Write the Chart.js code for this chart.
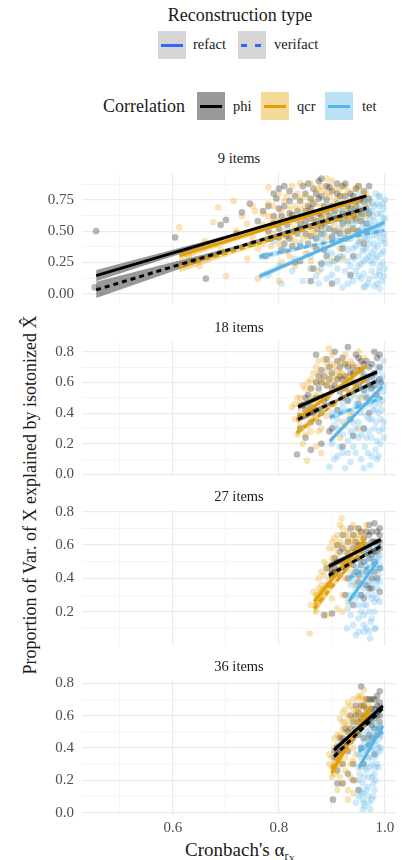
<!DOCTYPE html>
<html><head><meta charset="utf-8">
<script src="https://cdn.jsdelivr.net/npm/chart.js@4"></script>
<style>
html,body{margin:0;padding:0;background:#fff}
body{width:402px;height:860px;position:relative;overflow:hidden;font-family:"Liberation Serif","DejaVu Serif",serif;color:#1a1a1a}
.t{position:absolute;white-space:nowrap;line-height:1}
.box{position:absolute;width:28px;height:28px}
.kl{position:absolute;height:3px}
canvas{position:absolute;left:0}
</style></head><body>

<div class="t" style="left:240px;top:6px;font-size:18px;transform:translateX(-50%)">Reconstruction type</div>
<div class="box" style="left:158px;top:31px;background:#d5d5d5"><div class="kl" style="left:3px;width:22px;top:12.5px;background:#3366FF"></div></div>
<div class="t" style="left:193px;top:37px;font-size:14.5px">refact</div>
<div class="box" style="left:238px;top:31px;background:#d5d5d5"><div class="kl" style="left:3px;width:6px;top:12.5px;background:#3366FF"></div><div class="kl" style="left:17px;width:6px;top:12.5px;background:#3366FF"></div></div>
<div class="t" style="left:274px;top:37px;font-size:14.5px">verifact</div>

<div class="t" style="left:103px;top:97px;font-size:18px">Correlation</div>
<div class="box" style="left:197px;top:92px;background:#999999"><div class="kl" style="left:3px;width:22px;top:12.5px;background:#000"></div></div>
<div class="t" style="left:233px;top:99px;font-size:14.5px">phi</div>
<div class="box" style="left:261px;top:92px;background:#F5D999"><div class="kl" style="left:3px;width:22px;top:12.5px;background:#E69F00"></div></div>
<div class="t" style="left:297px;top:99px;font-size:14.5px">qcr</div>
<div class="box" style="left:325px;top:92px;background:#BBE1F6"><div class="kl" style="left:3px;width:22px;top:12.5px;background:#56B4E9"></div></div>
<div class="t" style="left:362px;top:99px;font-size:14.5px">tet</div>

<div class="t" style="left:30px;top:495px;font-size:18px;transform:translate(-50%,-50%) rotate(-90deg)">Proportion of Var. of X explained by isotonized X&#770;</div>
<div class="t" style="left:240px;top:840px;font-size:19px;transform:translateX(-50%)">Cronbach's α<sub style="font-size:12px;vertical-align:-4px">r<sub style="font-size:9px;vertical-align:-2px">X</sub></sub></div>

<div id="wrap"></div>
<script>
// ---------------- data ----------------
const corrs = ['phi', 'qcr', 'tet'];
const types = ['refact', 'verifact'];
const panelTitles = ['9 items', '18 items', '27 items', '36 items'];

const xTickVals = [0.6, 0.8, 1.0];
const xTickLabels = ['0.6', '0.8', '1.0'];
const xMinorVals = [0.5, 0.7, 0.9];
const xLim = [0.4283, 1.0208];

const yLims = [[-0.075, 0.965], [-0.01, 0.87], [-0.005, 0.81], [-0.015, 0.82]];
const yTickVals = [[0, 0.25, 0.5, 0.75], [0, 0.2, 0.4, 0.6, 0.8], [0.2, 0.4, 0.6, 0.8], [0, 0.2, 0.4, 0.6, 0.8]];
const yTickLabels = [['0.00', '0.25', '0.50', '0.75'], ['0.0', '0.2', '0.4', '0.6', '0.8'], ['0.2', '0.4', '0.6', '0.8'], ['0.0', '0.2', '0.4', '0.6', '0.8']];
const yMinorVals = [[0.125, 0.375, 0.625, 0.875], [0.1, 0.3, 0.5, 0.7], [0.1, 0.3, 0.5, 0.7], [0.1, 0.3, 0.5, 0.7]];

// observations [alpha, proportion]
const pts9_phi = [[0.455,0.50],[0.452,0.05],[0.604,0.45],[0.662,0.12],[0.69,0.55],[0.70,0.59],[0.72,0.48],[0.73,0.65],[0.745,0.72],[0.75,0.40],[0.76,0.58],[0.77,0.66],[0.775,0.30],[0.78,0.50],[0.79,0.62],[0.795,0.76],[0.80,0.45],[0.805,0.35],[0.81,0.70],[0.815,0.55],[0.82,0.82],[0.825,0.63],[0.83,0.25],[0.835,0.48],[0.84,0.74],[0.845,0.86],[0.85,0.58],[0.855,0.40],[0.86,0.68],[0.865,0.20],[0.87,0.80],[0.872,0.52],[0.875,0.90],[0.88,0.62],[0.885,0.35],[0.89,0.75],[0.895,0.85],[0.90,0.45],[0.905,0.66],[0.91,0.28],[0.915,0.78],[0.92,0.56],[0.925,0.88],[0.93,0.70],[0.935,0.15],[0.94,0.62],[0.945,0.84],[0.95,0.50],[0.955,0.76],[0.96,0.40],[0.965,0.68],[0.97,0.86],[0.86,0.10],[0.90,0.08],[0.88,0.92],[0.84,0.38],[0.82,0.44],[0.92,0.36],[0.94,0.30],[0.80,0.84],
  [0.79,0.56],[0.80,0.68],[0.81,0.40],[0.82,0.74],[0.83,0.60],[0.84,0.52],[0.85,0.80],[0.855,0.70],[0.86,0.46],[0.865,0.84],[0.87,0.36],[0.875,0.64],[0.88,0.78],[0.885,0.56],[0.89,0.30],[0.895,0.62],[0.90,0.82],[0.905,0.50],[0.91,0.72],[0.915,0.60],[0.92,0.86],[0.925,0.44],[0.93,0.64],[0.935,0.80],[0.94,0.52],[0.945,0.70],[0.95,0.86],[0.955,0.58],[0.96,0.74],[0.965,0.50],[0.97,0.64],[0.85,0.66],[0.87,0.58],[0.89,0.66],[0.91,0.88],[0.93,0.58],[0.95,0.66],[0.86,0.76],[0.88,0.48],[0.92,0.72],
  [0.78,0.70],[0.785,0.44],[0.79,0.80],[0.80,0.52],[0.805,0.62],[0.81,0.86],[0.815,0.46],[0.82,0.64],[0.825,0.38],[0.83,0.78],[0.835,0.66],[0.84,0.56],[0.845,0.62],[0.85,0.48],[0.855,0.88],[0.86,0.60],[0.865,0.72],[0.87,0.44],[0.875,0.76],[0.88,0.54],[0.885,0.70],[0.89,0.86],[0.895,0.52],[0.90,0.70],[0.905,0.60],[0.91,0.80],[0.915,0.48],[0.92,0.64],[0.925,0.78],[0.93,0.50],[0.935,0.68],[0.94,0.78],[0.945,0.60],[0.95,0.74],[0.955,0.64],[0.96,0.82],[0.965,0.56],[0.97,0.76],[0.84,0.26],[0.88,0.24]];
const pts9_qcr = [[0.612,0.53],[0.63,0.30],[0.65,0.22],[0.66,0.42],[0.676,0.57],[0.685,0.69],[0.69,0.35],[0.70,0.14],[0.714,0.74],[0.72,0.50],[0.73,0.62],[0.74,0.28],[0.75,0.45],[0.755,0.66],[0.76,0.12],[0.77,0.55],[0.78,0.72],[0.785,0.38],[0.79,0.60],[0.80,0.80],[0.805,0.25],[0.81,0.50],[0.82,0.68],[0.825,0.86],[0.83,0.42],[0.835,0.58],[0.84,0.76],[0.85,0.32],[0.855,0.64],[0.86,0.88],[0.865,0.50],[0.87,0.72],[0.875,0.18],[0.88,0.60],[0.885,0.82],[0.89,0.45],[0.895,0.70],[0.90,0.90],[0.905,0.55],[0.91,0.78],[0.915,0.36],[0.92,0.66],[0.925,0.86],[0.93,0.48],[0.935,0.74],[0.94,0.60],[0.945,0.84],[0.95,0.68],[0.955,0.42],[0.96,0.80],[0.965,0.62],[0.97,0.72],[0.80,0.10],[0.86,0.26],[0.78,0.85],[0.89,0.92],[0.83,0.22],[0.92,0.28],
  [0.76,0.52],[0.77,0.40],[0.78,0.62],[0.79,0.48],[0.80,0.58],[0.81,0.74],[0.815,0.34],[0.82,0.56],[0.83,0.70],[0.84,0.62],[0.845,0.44],[0.85,0.78],[0.855,0.54],[0.86,0.66],[0.865,0.38],[0.87,0.82],[0.875,0.58],[0.88,0.70],[0.885,0.50],[0.89,0.80],[0.895,0.60],[0.90,0.42],[0.905,0.74],[0.91,0.64],[0.915,0.84],[0.92,0.52],[0.925,0.70],[0.93,0.82],[0.935,0.58],[0.94,0.76],[0.945,0.50],[0.95,0.86],[0.955,0.62],[0.96,0.70],[0.965,0.80],[0.82,0.30],[0.86,0.20],[0.90,0.26],[0.84,0.88],[0.88,0.86],
  [0.74,0.56],[0.75,0.70],[0.76,0.36],[0.77,0.64],[0.78,0.46],[0.785,0.56],[0.79,0.70],[0.80,0.40],[0.805,0.66],[0.81,0.60],[0.815,0.78],[0.82,0.46],[0.825,0.62],[0.83,0.52],[0.835,0.80],[0.84,0.68],[0.845,0.56],[0.85,0.70],[0.855,0.46],[0.86,0.74],[0.865,0.60],[0.87,0.48],[0.875,0.84],[0.88,0.66],[0.885,0.40],[0.89,0.62],[0.895,0.78],[0.90,0.66],[0.905,0.84],[0.91,0.50],[0.915,0.70],[0.92,0.78],[0.925,0.60],[0.93,0.66],[0.935,0.52],[0.94,0.70],[0.945,0.66],[0.95,0.58],[0.955,0.76],[0.96,0.64]];
const pts9_tet = [[0.77,0.30],[0.78,0.15],[0.79,0.42],[0.80,0.22],[0.805,0.08],[0.81,0.35],[0.82,0.50],[0.825,0.18],[0.83,0.28],[0.84,0.40],[0.845,0.10],[0.85,0.55],[0.855,0.32],[0.86,0.20],[0.865,0.62],[0.87,0.45],[0.875,0.08],[0.88,0.36],[0.885,0.25],[0.89,0.52],[0.895,0.70],[0.90,0.15],[0.905,0.42],[0.91,0.60],[0.915,0.30],[0.92,0.05],[0.925,0.48],[0.93,0.72],[0.935,0.22],[0.94,0.56],[0.945,0.38],[0.95,0.80],[0.955,0.12],[0.96,0.64],[0.962,0.45],[0.965,0.28],[0.97,0.74],[0.972,0.52],[0.975,0.18],[0.978,0.62],[0.98,0.35],[0.982,0.80],[0.985,0.08],[0.988,0.55],[0.99,0.70],[0.992,0.42],[0.995,0.25],[0.996,0.60],[0.998,0.48],[1.0,0.75],[0.94,0.10],[0.96,0.05],[0.92,0.66],[0.90,0.32],[0.97,0.40],[0.985,0.30],[0.95,0.50],[0.93,0.35],[0.99,0.15],[0.975,0.66],
  [0.88,0.44],[0.89,0.12],[0.90,0.58],[0.905,0.26],[0.91,0.46],[0.915,0.68],[0.92,0.38],[0.925,0.18],[0.93,0.56],[0.935,0.44],[0.94,0.66],[0.942,0.28],[0.945,0.74],[0.95,0.22],[0.952,0.40],[0.955,0.60],[0.958,0.34],[0.96,0.16],[0.962,0.72],[0.965,0.52],[0.968,0.08],[0.97,0.30],[0.972,0.60],[0.975,0.46],[0.977,0.24],[0.98,0.70],[0.982,0.14],[0.984,0.50],[0.986,0.38],[0.988,0.78],[0.99,0.22],[0.992,0.64],[0.994,0.10],[0.995,0.56],[0.997,0.34],[0.998,0.68],[0.999,0.44],[1.0,0.20],[0.96,0.56],[0.95,0.68],[0.94,0.48],[0.93,0.08],[0.92,0.58],[0.91,0.20],[0.98,0.06],[0.99,0.48],[0.97,0.12],[0.985,0.72],[0.95,0.30],[0.975,0.54],
  [0.86,0.30],[0.87,0.14],[0.875,0.56],[0.88,0.20],[0.885,0.48],[0.89,0.34],[0.895,0.24],[0.90,0.46],[0.905,0.64],[0.91,0.10],[0.915,0.52],[0.92,0.30],[0.925,0.62],[0.93,0.44],[0.935,0.14],[0.94,0.36],[0.945,0.58],[0.95,0.42],[0.955,0.24],[0.958,0.66],[0.96,0.36],[0.963,0.06],[0.966,0.44],[0.97,0.56],[0.973,0.26],[0.976,0.72],[0.979,0.40],[0.981,0.58],[0.983,0.28],[0.986,0.64],[0.989,0.18],[0.991,0.52],[0.993,0.32],[0.996,0.72],[0.998,0.14],[1.0,0.40],[1.0,0.60],[0.99,0.04],[0.97,0.66],[0.95,0.14],[0.93,0.26],[0.965,0.36],[0.985,0.46],[0.975,0.32],[0.955,0.52],[0.945,0.18],[0.99,0.78],[0.98,0.50],[0.96,0.26],[0.94,0.66]];

const pts18_phi = [[0.834,0.13],[0.84,0.30],[0.845,0.45],[0.85,0.24],[0.855,0.52],[0.86,0.16],[0.865,0.40],[0.87,0.60],[0.875,0.34],[0.88,0.68],[0.885,0.48],[0.89,0.75],[0.895,0.28],[0.90,0.56],[0.905,0.80],[0.91,0.42],[0.915,0.64],[0.92,0.50],[0.925,0.72],[0.93,0.83],[0.935,0.36],[0.94,0.60],[0.945,0.78],[0.95,0.46],[0.955,0.68],[0.96,0.55],[0.965,0.74],[0.97,0.40],[0.975,0.64],[0.98,0.80],[0.985,0.52],[0.99,0.70],[0.992,0.60],[0.88,0.20],[0.90,0.30],[0.96,0.30],[0.87,0.78],[0.94,0.25],[0.86,0.56],[0.92,0.18],
  [0.85,0.42],[0.86,0.34],[0.87,0.50],[0.875,0.64],[0.88,0.40],[0.89,0.58],[0.895,0.70],[0.90,0.46],[0.91,0.74],[0.915,0.54],[0.92,0.62],[0.93,0.48],[0.935,0.66],[0.94,0.70],[0.95,0.58],[0.955,0.74],[0.96,0.64],[0.965,0.50],[0.97,0.70],[0.975,0.56],[0.98,0.66],[0.985,0.76],[0.99,0.62],[0.95,0.76],[0.925,0.56],
  [0.84,0.38],[0.85,0.50],[0.86,0.44],[0.87,0.42],[0.875,0.56],[0.88,0.60],[0.885,0.64],[0.89,0.50],[0.895,0.62],[0.90,0.66],[0.905,0.58],[0.91,0.62],[0.915,0.70],[0.92,0.76],[0.925,0.64],[0.93,0.70],[0.94,0.66],[0.945,0.56],[0.95,0.68],[0.96,0.72],[0.965,0.62],[0.97,0.58],[0.975,0.72],[0.98,0.58],[0.99,0.78]];
const pts18_qcr = [[0.825,0.44],[0.83,0.36],[0.835,0.26],[0.84,0.50],[0.845,0.20],[0.85,0.56],[0.853,0.09],[0.855,0.32],[0.86,0.62],[0.865,0.42],[0.87,0.70],[0.875,0.28],[0.88,0.52],[0.885,0.75],[0.89,0.38],[0.894,0.82],[0.90,0.60],[0.905,0.46],[0.91,0.68],[0.915,0.24],[0.92,0.56],[0.925,0.78],[0.93,0.64],[0.935,0.40],[0.94,0.72],[0.945,0.58],[0.95,0.80],[0.955,0.50],[0.96,0.70],[0.965,0.62],[0.87,0.18],[0.86,0.50],[0.88,0.14],[0.90,0.72],[0.92,0.34],[0.84,0.40],[0.95,0.30],[0.89,0.58],
  [0.83,0.46],[0.84,0.32],[0.845,0.58],[0.85,0.44],[0.86,0.38],[0.865,0.66],[0.87,0.52],[0.875,0.74],[0.88,0.62],[0.885,0.44],[0.89,0.68],[0.895,0.52],[0.90,0.78],[0.905,0.64],[0.91,0.56],[0.915,0.74],[0.92,0.66],[0.925,0.50],[0.93,0.72],[0.935,0.60],[0.94,0.52],[0.945,0.68],[0.955,0.64],[0.88,0.30],[0.86,0.28],
  [0.835,0.50],[0.84,0.46],[0.85,0.38],[0.855,0.60],[0.86,0.56],[0.865,0.48],[0.87,0.60],[0.875,0.66],[0.88,0.46],[0.885,0.60],[0.89,0.72],[0.895,0.64],[0.90,0.54],[0.905,0.70],[0.91,0.62],[0.915,0.66],[0.92,0.72],[0.925,0.62],[0.93,0.56],[0.935,0.74],[0.94,0.64],[0.95,0.70],[0.96,0.76],[0.87,0.36],[0.85,0.26]];
const pts18_tet = [[0.895,0.05],[0.90,0.20],[0.905,0.32],[0.91,0.12],[0.915,0.42],[0.92,0.26],[0.925,0.04],[0.93,0.36],[0.935,0.50],[0.94,0.18],[0.945,0.30],[0.95,0.58],[0.955,0.10],[0.96,0.44],[0.965,0.24],[0.97,0.64],[0.972,0.06],[0.975,0.36],[0.98,0.52],[0.982,0.16],[0.985,0.70],[0.988,0.40],[0.99,0.28],[0.992,0.60],[0.995,0.48],[0.997,0.74],[0.998,0.34],[0.96,0.66],[0.94,0.40],[0.975,0.12],[0.93,0.14],[0.99,0.56],[0.985,0.22],[0.95,0.34],[0.97,0.46],
  [0.90,0.40],[0.91,0.30],[0.915,0.18],[0.92,0.46],[0.925,0.32],[0.93,0.22],[0.935,0.08],[0.94,0.54],[0.945,0.14],[0.95,0.44],[0.955,0.26],[0.96,0.52],[0.962,0.18],[0.965,0.38],[0.97,0.28],[0.972,0.56],[0.975,0.48],[0.978,0.66],[0.98,0.30],[0.982,0.42],[0.985,0.58],[0.988,0.12],[0.99,0.46],[0.992,0.36],[0.995,0.64],[0.997,0.54],[0.998,0.24],[0.96,0.04],[0.97,0.36],[0.98,0.62],
  [0.905,0.10],[0.91,0.36],[0.92,0.14],[0.925,0.42],[0.93,0.48],[0.935,0.28],[0.94,0.34],[0.945,0.46],[0.95,0.24],[0.955,0.40],[0.96,0.30],[0.965,0.54],[0.968,0.14],[0.97,0.50],[0.974,0.24],[0.977,0.42],[0.98,0.46],[0.983,0.34],[0.986,0.50],[0.989,0.62],[0.991,0.20],[0.994,0.42],[0.996,0.30],[0.998,0.58],[0.95,0.50],[0.94,0.26],[0.96,0.58],[0.975,0.60],[0.985,0.10],[0.99,0.68]];

const pts27_phi = [[0.885,0.18],[0.89,0.46],[0.895,0.36],[0.90,0.19],[0.905,0.52],[0.91,0.60],[0.915,0.42],[0.92,0.66],[0.925,0.30],[0.93,0.55],[0.935,0.70],[0.94,0.48],[0.945,0.62],[0.95,0.38],[0.955,0.68],[0.96,0.56],[0.965,0.44],[0.97,0.72],[0.975,0.62],[0.98,0.50],[0.985,0.68],[0.99,0.58],[0.99,0.32],[0.975,0.40],[0.96,0.28],[0.94,0.24],[0.98,0.73],[0.95,0.60],[0.97,0.52],[0.92,0.50],
  [0.90,0.44],[0.91,0.50],[0.92,0.58],[0.93,0.62],[0.935,0.52],[0.94,0.66],[0.945,0.56],[0.95,0.70],[0.955,0.48],[0.96,0.64],[0.965,0.60],[0.97,0.66],[0.975,0.54],[0.98,0.62],[0.985,0.56],[0.99,0.66],[0.99,0.46],[0.98,0.44],[0.97,0.34],[0.95,0.42],
  [0.905,0.46],[0.915,0.56],[0.925,0.46],[0.93,0.40],[0.94,0.58],[0.945,0.44],[0.95,0.52],[0.955,0.60],[0.96,0.50],[0.965,0.68],[0.97,0.58],[0.975,0.68],[0.98,0.56],[0.985,0.62],[0.985,0.40],[0.99,0.62],[0.99,0.70],[0.975,0.34],[0.965,0.36],[0.955,0.30]];
const pts27_qcr = [[0.858,0.07],[0.86,0.24],[0.865,0.32],[0.87,0.20],[0.875,0.40],[0.88,0.28],[0.885,0.50],[0.89,0.18],[0.895,0.58],[0.90,0.36],[0.905,0.64],[0.91,0.46],[0.915,0.72],[0.918,0.76],[0.92,0.30],[0.925,0.56],[0.93,0.68],[0.935,0.44],[0.94,0.62],[0.945,0.70],[0.95,0.52],[0.955,0.66],[0.96,0.60],[0.965,0.72],[0.91,0.22],[0.90,0.62],[0.93,0.26],[0.88,0.44],[0.92,0.70],[0.945,0.36],
  [0.87,0.30],[0.875,0.26],[0.88,0.36],[0.885,0.42],[0.89,0.48],[0.895,0.40],[0.90,0.52],[0.905,0.58],[0.91,0.54],[0.915,0.62],[0.92,0.48],[0.925,0.66],[0.93,0.58],[0.935,0.62],[0.94,0.54],[0.945,0.64],[0.95,0.60],[0.955,0.56],[0.96,0.68],[0.90,0.28],[0.92,0.20],[0.94,0.72],[0.91,0.66],[0.93,0.48],[0.885,0.34],
  [0.88,0.32],[0.89,0.36],[0.895,0.46],[0.90,0.44],[0.905,0.50],[0.91,0.60],[0.915,0.50],[0.92,0.60],[0.925,0.50],[0.93,0.64],[0.935,0.56],[0.94,0.66],[0.945,0.58],[0.95,0.66],[0.955,0.62],[0.96,0.64],[0.87,0.24],[0.875,0.34],[0.91,0.40],[0.925,0.40]];
const pts27_tet = [[0.928,0.10],[0.93,0.30],[0.935,0.18],[0.94,0.42],[0.945,0.06],[0.95,0.24],[0.955,0.50],[0.96,0.12],[0.962,0.36],[0.965,0.56],[0.97,0.20],[0.972,0.04],[0.975,0.44],[0.978,0.30],[0.98,0.58],[0.982,0.10],[0.985,0.38],[0.988,0.52],[0.99,0.26],[0.992,0.46],[0.96,0.08],[0.95,0.36],[0.94,0.12],[0.975,0.16],[0.985,0.60],
  [0.93,0.22],[0.935,0.36],[0.94,0.30],[0.945,0.46],[0.95,0.16],[0.955,0.30],[0.96,0.42],[0.965,0.24],[0.965,0.48],[0.97,0.38],[0.97,0.54],[0.975,0.28],[0.975,0.52],[0.98,0.40],[0.98,0.20],[0.985,0.46],[0.985,0.28],[0.99,0.54],[0.99,0.38],[0.96,0.18],[0.95,0.08],[0.965,0.10],[0.955,0.42],[0.945,0.28],[0.98,0.10],
  [0.935,0.26],[0.94,0.38],[0.945,0.34],[0.95,0.46],[0.955,0.20],[0.96,0.34],[0.962,0.50],[0.968,0.30],[0.97,0.44],[0.973,0.14],[0.976,0.36],[0.978,0.48],[0.98,0.26],[0.983,0.52],[0.986,0.34],[0.988,0.42],[0.99,0.48],[0.97,0.08],[0.96,0.24],[0.95,0.30]];

const pts36_phi = [[0.902,0.08],[0.905,0.34],[0.91,0.26],[0.915,0.46],[0.92,0.18],[0.925,0.52],[0.93,0.38],[0.935,0.60],[0.94,0.30],[0.945,0.66],[0.95,0.48],[0.955,0.78],[0.96,0.56],[0.965,0.70],[0.97,0.42],[0.975,0.64],[0.98,0.52],[0.985,0.72],[0.99,0.60],[0.99,0.75],[0.98,0.36],[0.97,0.62],[0.96,0.30],[0.95,0.14],[0.92,0.30],[0.985,0.48],
  [0.91,0.40],[0.92,0.46],[0.93,0.50],[0.935,0.44],[0.94,0.56],[0.945,0.52],[0.95,0.62],[0.955,0.58],[0.96,0.66],[0.965,0.60],[0.97,0.70],[0.975,0.54],[0.98,0.64],[0.985,0.60],[0.99,0.68],[0.99,0.52],[0.975,0.46],[0.96,0.46],[0.93,0.24],[0.91,0.18],
  [0.905,0.38],[0.915,0.36],[0.925,0.44],[0.935,0.52],[0.94,0.46],[0.945,0.60],[0.95,0.56],[0.955,0.66],[0.96,0.60],[0.965,0.64],[0.97,0.56],[0.975,0.70],[0.98,0.58],[0.985,0.66],[0.99,0.64],[0.99,0.56],[0.98,0.70],[0.97,0.48],[0.955,0.40],[0.94,0.20]];
const pts36_qcr = [[0.895,0.30],[0.90,0.22],[0.905,0.40],[0.91,0.14],[0.915,0.48],[0.92,0.30],[0.925,0.56],[0.93,0.08],[0.935,0.44],[0.94,0.64],[0.945,0.36],[0.95,0.70],[0.955,0.52],[0.96,0.76],[0.962,0.60],[0.965,0.46],[0.97,0.66],[0.92,0.62],[0.935,0.22],[0.94,0.12],[0.91,0.36],[0.95,0.60],[0.93,0.68],[0.955,0.28],
  [0.895,0.36],[0.90,0.28],[0.905,0.46],[0.91,0.42],[0.915,0.32],[0.92,0.52],[0.925,0.40],[0.925,0.64],[0.93,0.54],[0.935,0.58],[0.94,0.48],[0.94,0.70],[0.945,0.56],[0.95,0.50],[0.95,0.64],[0.955,0.60],[0.955,0.72],[0.96,0.54],[0.96,0.66],[0.965,0.70],[0.965,0.58],[0.97,0.62],[0.92,0.18],[0.93,0.14],[0.915,0.58],[0.905,0.24],[0.945,0.20],[0.935,0.30],[0.925,0.26],[0.94,0.40],
  [0.90,0.34],[0.905,0.30],[0.91,0.48],[0.915,0.40],[0.92,0.44],[0.92,0.56],[0.925,0.50],[0.93,0.46],[0.93,0.60],[0.935,0.50],[0.935,0.66],[0.94,0.58],[0.945,0.62],[0.945,0.48],[0.95,0.56],[0.95,0.72],[0.955,0.66],[0.96,0.60],[0.96,0.70],[0.965,0.64],[0.91,0.28],[0.925,0.34],[0.94,0.32],[0.915,0.22],[0.93,0.38]];
const pts36_tet = [[0.945,0.06],[0.95,0.28],[0.952,0.14],[0.955,0.40],[0.958,0.02],[0.96,0.22],[0.965,0.50],[0.968,0.10],[0.97,0.34],[0.975,0.56],[0.978,0.18],[0.98,0.44],[0.985,0.30],[0.988,0.60],[0.99,0.38],[0.992,0.48],[0.97,0.06],[0.96,0.36],[0.98,0.24],[0.975,0.62],[0.955,0.12],[0.985,0.52],
  [0.95,0.20],[0.95,0.36],[0.955,0.30],[0.96,0.44],[0.96,0.12],[0.963,0.28],[0.965,0.38],[0.965,0.58],[0.97,0.46],[0.97,0.22],[0.972,0.52],[0.975,0.30],[0.975,0.40],[0.978,0.10],[0.98,0.34],[0.98,0.54],[0.982,0.20],[0.985,0.42],[0.988,0.28],[0.99,0.54],[0.958,0.08],[0.962,0.04],[0.968,0.16],[0.955,0.48],[0.992,0.40],
  [0.952,0.24],[0.955,0.34],[0.958,0.18],[0.96,0.30],[0.962,0.40],[0.965,0.26],[0.966,0.46],[0.968,0.34],[0.97,0.40],[0.972,0.28],[0.974,0.48],[0.976,0.22],[0.978,0.38],[0.98,0.48],[0.982,0.28],[0.984,0.36],[0.986,0.50],[0.988,0.40],[0.99,0.46],[0.96,0.06],[0.965,0.14],[0.972,0.02],[0.975,0.08],[0.95,0.10],[0.98,0.14]];

// fitted lines [x0, y0, x1, y1]: phi refact, phi verifact, qcr refact, qcr verifact, tet refact, tet verifact
const fit9  = [[0.455,0.144,0.965,0.782],[0.455,0.030,0.965,0.684],[0.612,0.303,0.954,0.752],[0.612,0.212,0.954,0.646],[0.763,0.138,0.999,0.569],[0.763,0.295,0.999,0.507]];
const fit18 = [[0.836,0.441,0.985,0.668],[0.836,0.360,0.985,0.610],[0.833,0.354,0.964,0.704],[0.833,0.270,0.964,0.620],[0.896,0.218,0.995,0.573],[0.896,0.372,0.995,0.500]];
const fit27 = [[0.894,0.472,0.992,0.632],[0.894,0.418,0.992,0.592],[0.866,0.262,0.962,0.632],[0.866,0.218,0.962,0.590],[0.932,0.262,0.986,0.502],[0.932,0.402,0.986,0.500]];
const fit36 = [[0.904,0.388,0.996,0.660],[0.904,0.347,0.996,0.645],[0.899,0.244,0.973,0.654],[0.899,0.270,0.973,0.630],[0.951,0.279,0.996,0.537],[0.951,0.377,0.996,0.500]];

// confidence band half widths at start, middle, end
const ci9  = [[0.045,0.012,0.014],[0.065,0.015,0.016],[0.035,0.012,0.013],[0.040,0.012,0.014],[0.025,0.010,0.014],[0.025,0.010,0.014]];
const ci18 = [[0.020,0.010,0.014],[0.022,0.010,0.014],[0.022,0.010,0.014],[0.024,0.010,0.014],[0.020,0.010,0.014],[0.020,0.010,0.014]];
const ci27 = [[0.020,0.010,0.014],[0.022,0.010,0.014],[0.035,0.012,0.018],[0.035,0.012,0.018],[0.020,0.010,0.014],[0.020,0.010,0.014]];
const ci36 = [[0.020,0.010,0.014],[0.020,0.010,0.014],[0.030,0.012,0.016],[0.030,0.012,0.016],[0.020,0.010,0.014],[0.020,0.010,0.014]];

// ---------------- drawing ----------------
const allPts = [[pts9_phi, pts9_qcr, pts9_tet], [pts18_phi, pts18_qcr, pts18_tet], [pts27_phi, pts27_qcr, pts27_tet], [pts36_phi, pts36_qcr, pts36_tet]];
const allFits = [fit9, fit18, fit27, fit36];
const allCis = [ci9, ci18, ci27, ci36];
const COL = {phi: '0,0,0', qcr: '230,159,0', tet: '86,180,233'};
const panelTop = [173, 341, 510, 680];
const panelBottom = [303, 476, 646, 815];
const titleY = [151, 320, 489, 659];
const FONT = "'Liberation Serif', 'Times New Roman', serif";
Chart.defaults.font.family = FONT;

function gridOpts() {
  return {
    drawTicks: false,
    color: ctx => (ctx.tick && ctx.tick.minor) ? '#f0f0f0' : '#ebebeb',
    lineWidth: ctx => (ctx.tick && ctx.tick.minor) ? 0.7 : 1.2
  };
}
function mkTicks(vals, labels, minor) {
  const arr = vals.map((v, i) => ({value: v, lbl: labels[i]})).concat(minor.map(v => ({value: v, lbl: '', minor: true})));
  return arr.sort((a, b) => a.value - b.value);
}

const wrap = document.getElementById('wrap');
for (let p = 0; p < 4; p++) {
  const last = p === 3;
  const padTop = 18, padBottom = last ? 0 : 18, xH = last ? 30 : 0;
  const h = panelBottom[p] - panelTop[p] + padTop + padBottom + xH;

  const tt = document.createElement('div');
  tt.className = 't';
  tt.style.cssText = 'left:239px;top:' + titleY[p] + 'px;font-size:14.5px;transform:translateX(-50%)';
  tt.textContent = panelTitles[p];
  wrap.appendChild(tt);

  const cv = document.createElement('canvas');
  cv.width = 402; cv.height = h;
  cv.style.top = (panelTop[p] - padTop) + 'px';
  cv.style.width = '402px'; cv.style.height = h + 'px';
  wrap.appendChild(cv);

  const ds = [];
  corrs.forEach((c, ci) => {
    ds.push({
      data: allPts[p][ci].map(([x, y]) => ({x, y})),
      showLine: false, pointRadius: 3.3, pointHoverRadius: 0,
      pointBackgroundColor: 'rgba(' + COL[c] + ',0.28)', pointBorderWidth: 0,
      order: 50 - ci, clip: 0
    });
  });
  allFits[p].forEach((f, k) => {
    const c = corrs[Math.floor(k / 2)];
    const dashed = types[k % 2] === 'verifact';
    const [x0, y0, x1, y1] = f;
    const [h0, h1, h2] = allCis[p][k];
    const xm = (x0 + x1) / 2, ym = (y0 + y1) / 2;
    const lowerIdx = ds.length + 1;
    ds.push({data: [{x: x0, y: y0 + h0}, {x: xm, y: ym + h1}, {x: x1, y: y1 + h2}],
      borderWidth: 0, borderColor: 'rgba(0,0,0,0)', pointRadius: 0, tension: 0,
      fill: lowerIdx, backgroundColor: 'rgba(' + COL[c] + ',0.4)', order: 30, clip: 0});
    ds.push({data: [{x: x0, y: y0 - h0}, {x: xm, y: ym - h1}, {x: x1, y: y1 - h2}],
      borderWidth: 0, borderColor: 'rgba(0,0,0,0)', pointRadius: 0, tension: 0,
      fill: false, order: 30, clip: 0});
    ds.push({data: [{x: x0, y: y0}, {x: x1, y: y1}],
      borderColor: 'rgb(' + COL[c] + ')', borderWidth: 3, borderDash: dashed ? [5, 4] : [],
      pointRadius: 0, fill: false, order: 10 + k, clip: 0});
  });

  new Chart(cv, {
    type: 'line',
    data: {datasets: ds},
    options: {
      animation: false, responsive: false, maintainAspectRatio: false, events: [], devicePixelRatio: 1,
      layout: {padding: {left: 0, right: 6, top: padTop, bottom: padBottom}},
      plugins: {legend: {display: false}, tooltip: {enabled: false}},
      scales: {
        x: {
          type: 'linear', min: xLim[0], max: xLim[1],
          border: {display: false}, grid: gridOpts(),
          ticks: {display: last, autoSkip: false, maxRotation: 0, padding: 4, color: '#4d4d4d',
            font: {family: FONT, size: 15}, callback: (v, i, t) => t[i].lbl || ''},
          afterBuildTicks: s => { s.ticks = mkTicks(xTickVals, xTickLabels, xMinorVals); },
          afterFit: s => { s.height = xH; }
        },
        y: {
          type: 'linear', min: yLims[p][0], max: yLims[p][1],
          border: {display: false}, grid: gridOpts(),
          ticks: {autoSkip: false, padding: 8, color: '#4d4d4d',
            font: {family: FONT, size: 15}, callback: (v, i, t) => t[i].lbl || ''},
          afterBuildTicks: s => { s.ticks = mkTicks(yTickVals[p], yTickLabels[p], yMinorVals[p]); },
          afterFit: s => { s.width = 82; }
        }
      }
    }
  });
}
</script>
</body></html>
